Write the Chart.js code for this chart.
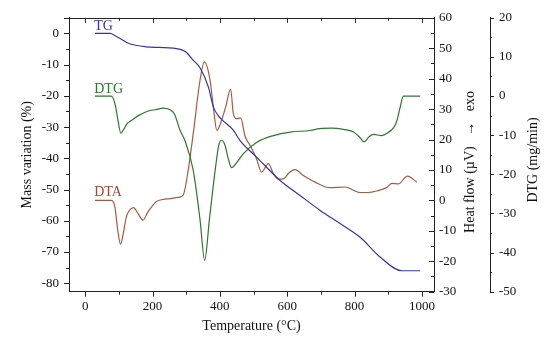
<!DOCTYPE html>
<html>
<head>
<meta charset="utf-8">
<script src="https://cdn.jsdelivr.net/npm/chart.js@4"></script>
<style>
  html, body { margin: 0; padding: 0; background: #fff; }
  #wrap { width: 550px; height: 343px; }
</style>
</head>
<body>
<div id="wrap"><canvas id="thermo"></canvas></div>
<script>
// --- data ---
const tgTemp = [29, 74, 90, 110, 123, 150, 182, 220, 261, 285, 301, 320, 341, 366, 381, 395, 410, 440, 460, 509, 579, 638, 697, 757, 816, 876, 941, 995];
const tgMass = [0, 0, -0.8, -2.0, -2.9, -3.8, -4.3, -4.5, -4.7, -5.2, -6.1, -8.5, -11.0, -17.2, -23.6, -26.3, -28.0, -31.0, -34.3, -39.6, -47.1, -51.9, -56.6, -60.9, -65.2, -71.6, -76.0, -76.0];

const dtgTemp = [29, 78, 90, 98, 106, 114, 125, 138, 158, 192, 207, 232, 252, 265, 282, 296, 321, 341, 355, 369, 386, 397, 405, 415, 425, 435, 450, 470, 510, 559, 609, 668, 697, 733, 767, 797, 815, 828, 842, 856, 881, 900, 915, 925, 935, 945, 995];
const dtgRate = [0, 0, -2.5, -6.5, -9.5, -8.6, -7.0, -6.2, -5.0, -3.7, -3.5, -3.1, -3.5, -4.6, -8.8, -11.3, -19.0, -31.5, -42.0, -31.5, -19.0, -12.5, -11.3, -12.5, -16.0, -18.3, -17.0, -14.7, -11.8, -10.1, -9.2, -8.8, -8.3, -8.2, -8.5, -9.2, -10.5, -11.7, -10.5, -9.8, -10.1, -9.3, -8.2, -6.5, -3.0, 0, 0];

const dtaTemp = [29, 78, 88, 97, 105, 113, 122, 130, 143, 158, 172, 185, 197, 210, 230, 252, 281, 291, 306, 321, 341, 354, 371, 383, 391, 405, 418, 432, 440, 450, 462, 475, 490, 509, 524, 544, 559, 575, 589, 605, 623, 648, 683, 727, 772, 816, 840, 866, 895, 911, 930, 957, 985];
const dtaHeat = [0, 0, -2.0, -10.0, -14.4, -11.0, -5.5, -3.5, -2.4, -4.5, -6.5, -4.0, -2.2, -0.5, 0.3, 0.6, 1.1, 1.7, 9.9, 22.0, 39.4, 45.5, 39.4, 28.4, 23.0, 26.3, 31.0, 36.6, 28.5, 26.8, 27.1, 21.0, 18.0, 13.7, 9.3, 12.1, 8.8, 7.0, 7.1, 9.0, 10.1, 8.2, 6.0, 4.2, 4.4, 2.6, 2.6, 3.1, 4.2, 5.6, 5.4, 8.0, 6.0];

const tempTicks = [0, 200, 400, 600, 800, 1000];
const massTicks = [0, -10, -20, -30, -40, -50, -60, -70, -80];
const heatTicks = [60, 50, 40, 30, 20, 10, 0, -10, -20, -30];
const rateTicks = [20, 10, 0, -10, -20, -30, -40, -50];

const tgColor = '#3434a6';
const dtgColor = '#2e762e';
const dtaColor = '#a65a42';
const serif = '"Liberation Serif", "Times New Roman", serif';

const toPoints = (xs, ys) => xs.map((x, i) => ({ x: x, y: ys[i] }));
const fixTicks = list => scale => { scale.ticks = list.map(v => ({ value: v })); };

// ticks, top frame, series labels and right-hand titles
const decorations = {
    id: 'decorations',
    afterDraw(chart) {
        const { ctx, chartArea: a, scales } = chart;
        const xs = scales.x, hf = scales.heat, dr = scales.rate;
        ctx.save();
        ctx.strokeStyle = '#222';
        ctx.lineWidth = 1;
        ctx.beginPath();
        ctx.moveTo(a.left - 5, Math.round(a.top) + 0.5);
        ctx.lineTo(a.right, Math.round(a.top) + 0.5);
        for (let v = 0; v <= 1000; v += 100) {
            const px = Math.round(xs.getPixelForValue(v)) + 0.5;
            const len = v % 200 === 0 ? 5 : 3;
            ctx.moveTo(px, a.bottom); ctx.lineTo(px, a.bottom + len);
            ctx.moveTo(px, a.top); ctx.lineTo(px, a.top + len);
        }
        for (let v = -80; v <= 0; v += 5) {
            const py = Math.round(scales.mass.getPixelForValue(v)) + 0.5;
            const len = v % 10 === 0 ? 5 : 3;
            ctx.moveTo(a.left, py); ctx.lineTo(a.left - len, py);
        }
        for (let v = -30; v <= 60; v += 5) {
            const py = Math.round(hf.getPixelForValue(v)) + 0.5;
            const len = v % 10 === 0 ? 5 : 3;
            ctx.moveTo(a.right, py); ctx.lineTo(a.right - len, py);
        }
        for (let v = -50; v <= 20; v += 5) {
            const py = Math.round(dr.getPixelForValue(v)) + 0.5;
            const len = v % 10 === 0 ? 4 : 2;
            ctx.moveTo(dr.left, py); ctx.lineTo(dr.left + len, py);
        }
        ctx.stroke();

        // series names next to the start of each curve
        ctx.font = '14px ' + serif;
        ctx.textAlign = 'left';
        ctx.textBaseline = 'alphabetic';
        const lx = xs.getPixelForValue(27);
        ctx.fillStyle = tgColor;
        ctx.fillText('TG', lx, scales.mass.getPixelForValue(tgMass[0]) - 3);
        ctx.fillStyle = dtgColor;
        ctx.fillText('DTG', lx, dr.getPixelForValue(dtgRate[0]) - 3);
        ctx.fillStyle = '#a2453a';
        ctx.fillText('DTA', lx, hf.getPixelForValue(dtaHeat[0]) - 4);

        // right axis titles, reading bottom to top
        ctx.fillStyle = '#111';
        ctx.textAlign = 'center';
        ctx.textBaseline = 'middle';
        ctx.save();
        ctx.translate(hf.left + 36, 162);
        ctx.rotate(-Math.PI / 2);
        ctx.fillText('Heat flow (\u00b5V)   \u2192   exo', 0, 0);
        ctx.restore();
        ctx.save();
        ctx.translate(dr.left + 43, 160);
        ctx.rotate(-Math.PI / 2);
        ctx.fillText('DTG (mg/min)', 0, 0);
        ctx.restore();
        ctx.restore();
    }
};

document.addEventListener('DOMContentLoaded', function() {
    const tickFont = { family: serif, size: 13 };
    const border = { display: true, color: '#222', width: 1 };

    new Chart(document.getElementById('thermo'), {
        type: 'line',
        data: {
            datasets: [{
                label: 'TG',
                data: toPoints(tgTemp, tgMass),
                yAxisID: 'mass',
                borderColor: tgColor
            }, {
                label: 'DTG',
                data: toPoints(dtgTemp, dtgRate),
                yAxisID: 'rate',
                borderColor: dtgColor
            }, {
                label: 'DTA',
                data: toPoints(dtaTemp, dtaHeat),
                yAxisID: 'heat',
                borderColor: dtaColor
            }]
        },
        options: {
            responsive: true,
            maintainAspectRatio: false,
            animation: false,
            layout: { padding: { top: 17, left: 0, right: 0, bottom: 0 } },
            elements: {
                point: { radius: 0 },
                line: { borderWidth: 1.2, cubicInterpolationMode: 'monotone', fill: false }
            },
            plugins: {
                legend: { display: false },
                tooltip: { enabled: false }
            },
            scales: {
                x: {
                    type: 'linear',
                    position: 'bottom',
                    min: -48,
                    max: 1036,
                    afterBuildTicks: fixTicks(tempTicks),
                    afterFit: s => { s.height = 51.3; },
                    grid: { display: false, drawTicks: false },
                    border: border,
                    ticks: { font: tickFont, color: '#111', padding: 7, autoSkip: false, maxRotation: 0,
                             callback: v => String(v) },
                    title: { display: true, text: 'Temperature (\u00b0C)', color: '#111',
                             font: { family: serif, size: 14 }, padding: { top: 0, bottom: 8 } }
                },
                mass: {
                    type: 'linear',
                    position: 'left',
                    min: -82.7,
                    max: 5,
                    afterBuildTicks: fixTicks(massTicks),
                    afterFit: s => { s.width = 69; },
                    grid: { display: false, drawTicks: false },
                    border: border,
                    ticks: { font: tickFont, color: '#111', padding: 10, autoSkip: false,
                             callback: v => String(v) },
                    title: { display: true, text: 'Mass variation (%)', color: '#111',
                             font: { family: serif, size: 14 }, padding: { top: 19, bottom: 0 } }
                },
                heat: {
                    type: 'linear',
                    position: 'right',
                    weight: 0,
                    min: -30,
                    max: 60,
                    afterBuildTicks: fixTicks(heatTicks),
                    afterFit: s => { s.width = 56; },
                    grid: { display: false, drawTicks: false },
                    border: border,
                    ticks: { font: tickFont, color: '#111', padding: 5, autoSkip: false,
                             callback: v => String(v) }
                },
                rate: {
                    type: 'linear',
                    position: 'right',
                    weight: 1,
                    min: -50,
                    max: 20,
                    afterBuildTicks: fixTicks(rateTicks),
                    afterFit: s => { s.width = 60; },
                    grid: { display: false, drawTicks: false },
                    border: border,
                    ticks: { font: tickFont, color: '#111', padding: 9, autoSkip: false,
                             callback: v => String(v) }
                }
            }
        },
        plugins: [decorations]
    });
});
</script>
</body>
</html>
